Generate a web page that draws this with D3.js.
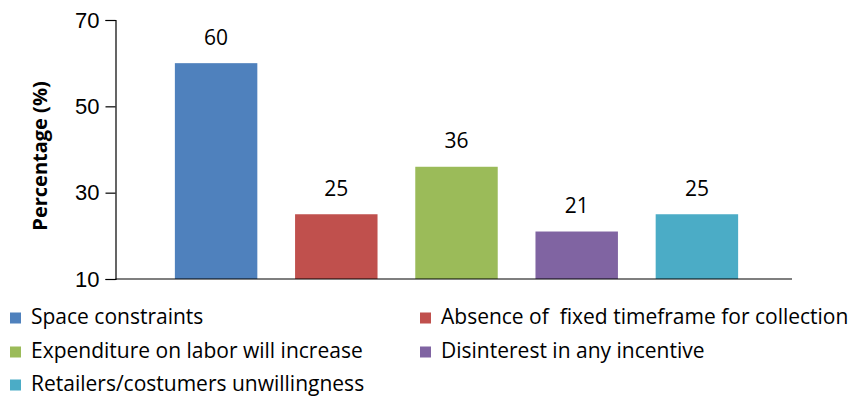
<!DOCTYPE html>
<html>
<head>
<meta charset="utf-8">
<script src="https://cdn.jsdelivr.net/npm/d3@7"></script>
<style>
  body { margin: 0; background: #fff; }
  svg { font-family: "Open Sans", "Liberation Sans", sans-serif; }
</style>
</head>
<body>
<div id="chart"></div>
<script>
const categories = [
  "Space constraints",
  "Absence of  fixed timeframe for collection",
  "Expenditure on labor will increase",
  "Disinterest in any incentive",
  "Retailers/costumers unwillingness"
];
const values = [60, 25, 36, 21, 25];
const colors = ["#4F81BD", "#C0504D", "#9BBB59", "#8064A2", "#4BACC6"];
const yTicks = [10, 30, 50, 70];

const width = 851, height = 398;

const svg = d3.select("#chart")
  .append("svg")
  .attr("width", width)
  .attr("height", height);

const axisX = 115.5;
const axisRight = 792;

const y = d3.scaleLinear()
  .domain([10, 70])
  .range([279, 20]);

// bars sit in a band layout inset from the axis
const x = d3.scaleBand()
  .domain(categories)
  .range([156, 757])
  .paddingInner(0.314)
  .paddingOuter(0.157);

// y axis
const yAxis = svg.append("g")
  .attr("transform", `translate(${axisX},0)`)
  .call(d3.axisLeft(y).tickValues(yTicks).tickSize(10).tickPadding(6));
yAxis.select(".domain").attr("stroke", "#000").attr("stroke-width", 1.2);
yAxis.selectAll(".tick line").attr("stroke", "#000").attr("stroke-width", 1.2);
yAxis.selectAll(".tick text")
  .style("font-size", "22px")
  .attr("fill", "#000");

svg.append("text")
  .attr("transform", `translate(42,156) rotate(-90)`)
  .attr("text-anchor", "middle")
  .attr("dominant-baseline", "middle")
  .style("font-size", "20px")
  .style("font-weight", "bold")
  .text("Percentage (%)");

// bars
svg.selectAll("rect.bar")
  .data(values)
  .join("rect")
  .attr("class", "bar")
  .attr("x", (d, i) => x(categories[i]))
  .attr("y", d => y(d))
  .attr("width", x.bandwidth())
  .attr("height", d => y(10) - y(d))
  .attr("fill", (d, i) => colors[i]);

// x axis line
svg.append("line")
  .attr("x1", axisX)
  .attr("x2", axisRight)
  .attr("y1", y(10))
  .attr("y2", y(10))
  .attr("stroke", "#000")
  .attr("stroke-width", 1.2);

// value labels
svg.selectAll("text.val")
  .data(values)
  .join("text")
  .attr("class", "val")
  .attr("x", (d, i) => x(categories[i]) + x.bandwidth() / 2)
  .attr("y", d => y(d) - 24)
  .attr("text-anchor", "middle")
  .attr("dominant-baseline", "middle")
  .style("font-size", "21px")
  .attr("fill", "#000")
  .text(d => d);

// legend
const legendPos = [
  [10, 318], [420, 318],
  [10, 352], [420, 352],
  [10, 385]
];
const legend = svg.append("g");
categories.forEach((c, i) => {
  const [lx, ly] = legendPos[i];
  legend.append("rect")
    .attr("x", lx)
    .attr("y", ly - 5.5)
    .attr("width", 11)
    .attr("height", 11)
    .attr("fill", colors[i]);
  legend.append("text")
    .attr("x", lx + 21)
    .attr("y", ly)
    .attr("dominant-baseline", "middle")
    .style("font-size", "21px")
    .attr("fill", "#000")
    .attr("xml:space", "preserve")
    .style("white-space", "pre")
    .text(c);
});
</script>
</body>
</html>
